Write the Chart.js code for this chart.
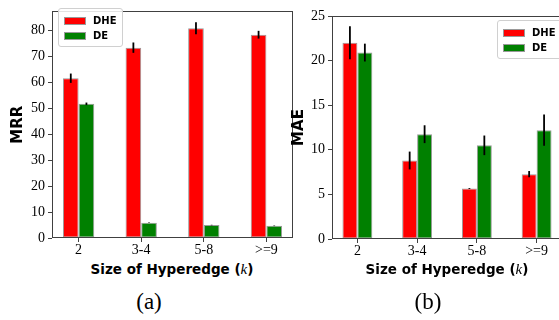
<!DOCTYPE html>
<html lang="en">
<head>
  <meta charset="UTF-8" />
  <title>DHE vs DE by hyperedge size</title>
  <script src="https://cdn.jsdelivr.net/npm/chart.js"></script>
  <style>
    body { margin: 0; width: 559px; height: 320px; overflow: hidden; background: #fff; position: relative; }
    .box { position: absolute; }
    .xtitle { position: absolute; font: bold 13.5px "DejaVu Sans", sans-serif; line-height: 14px; white-space: nowrap; transform: translateX(-50%); color: #000; }
    .xtitle i { font-family: "Liberation Serif", serif; font-weight: normal; font-size: 15px; }
    .caption { position: absolute; font: 23px "Liberation Serif", serif; line-height: 23px; transform: translateX(-50%); color: #000; }
    .legend { position: absolute; background: rgba(255,255,255,0.85); border: 1px solid #d0d0d0; border-radius: 3px; padding: 4px 5px 3px 5px; }
    .legend div { display: flex; align-items: center; height: 15px; font: bold 10px "DejaVu Sans", sans-serif; color: #000; }
    .legend span.sw { display: inline-block; width: 20px; height: 6px; border: 1px solid #999; margin-right: 7px; }
  </style>
</head>
<body>
  <div class="box" style="left:0;top:0;width:296px;height:257px;"><canvas id="mrrChart" width="296" height="257"></canvas></div>
  <div class="box" style="left:290px;top:0;width:275px;height:258px;"><canvas id="maeChart" width="275" height="258"></canvas></div>

  <div class="legend" id="legA" style="left:58px;top:8px;"></div>
  <div class="legend" id="legB" style="left:497px;top:20px;"></div>

  <div class="xtitle" style="left:172px;top:262px;">Size of Hyperedge (<i>k</i>)</div>
  <div class="xtitle" style="left:447px;top:262px;">Size of Hyperedge (<i>k</i>)</div>
  <div class="caption" style="left:149px;top:290px;">(a)</div>
  <div class="caption" style="left:428px;top:290px;">(b)</div>

  <script>
    // categories and series
    const categories = ['2', '3-4', '5-8', '>=9'];
    const seriesNames = ['DHE', 'DE'];
    const seriesColors = ['#ff0000', '#008000'];

    // MRR (left panel)
    const mrrDHE = [61.7, 73.5, 81.0, 78.5];
    const mrrDHEErr = [1.8, 2.0, 2.3, 1.5];
    const mrrDE = [51.8, 5.9, 5.0, 4.7];
    const mrrDEErr = [0.5, 0.1, 0.1, 0.1];
    const mrrTicks = [0, 10, 20, 30, 40, 50, 60, 70, 80];

    // MAE (right panel)
    const maeDHE = [22.0, 8.8, 5.67, 7.27];
    const maeDHEErr = [1.85, 1.0, 0.05, 0.35];
    const maeDE = [20.9, 11.75, 10.5, 12.2];
    const maeDEErr = [1.0, 1.0, 1.1, 1.75];
    const maeTicks = [0, 5, 10, 15, 20, 25];

    const tickFont = { family: '"Liberation Serif", serif', size: 14 };
    const frameColor = '#404040';

    // vertical error bars, no caps
    const errorBars = {
      id: 'errorBars',
      afterDatasetsDraw(chart) {
        const ctx = chart.ctx;
        const y = chart.scales.y;
        ctx.save();
        ctx.strokeStyle = '#000';
        ctx.lineWidth = 1.8;
        chart.data.datasets.forEach((ds, di) => {
          const meta = chart.getDatasetMeta(di);
          meta.data.forEach((bar, i) => {
            const v = ds.data[i].y, e = ds.errors[i];
            ctx.beginPath();
            ctx.moveTo(bar.x, y.getPixelForValue(v + e));
            ctx.lineTo(bar.x, y.getPixelForValue(v - e));
            ctx.stroke();
          });
        });
        ctx.restore();
      }
    };

    // box around the plot area
    const frame = {
      id: 'frame',
      afterDraw(chart) {
        const a = chart.chartArea;
        const ctx = chart.ctx;
        ctx.save();
        ctx.strokeStyle = frameColor;
        ctx.lineWidth = 1;
        ctx.strokeRect(Math.round(a.left) + 0.5, Math.round(a.top) + 0.5,
                       Math.round(a.right - a.left) - 1, Math.round(a.bottom - a.top) - 1);
        ctx.restore();
      }
    };

    function makeChart(id, label, dhe, dheErr, de, deErr, yMax, yTicks, yWidth, yTitlePad, padding) {
      const toPts = arr => arr.map((v, i) => ({ x: i, y: v }));
      return new Chart(document.getElementById(id), {
        type: 'bar',
        data: {
          datasets: [
            { label: seriesNames[0], data: toPts(dhe), errors: dheErr, backgroundColor: seriesColors[0] },
            { label: seriesNames[1], data: toPts(de), errors: deErr, backgroundColor: seriesColors[1] }
          ]
        },
        options: {
          responsive: false,
          animation: false,
          layout: { padding: padding },
          datasets: {
            bar: { categoryPercentage: 0.5, barPercentage: 1.0, borderColor: '#999', borderWidth: 1, borderSkipped: false }
          },
          plugins: { legend: { display: false }, tooltip: { enabled: false } },
          scales: {
            x: {
              type: 'linear',
              min: -0.425,
              max: categories.length - 1 + 0.425,
              offset: false,
              afterBuildTicks: s => { s.ticks = categories.map((c, i) => ({ value: i })); },
              afterFit: s => { s.height = 19; },
              grid: { display: true, offset: false, drawOnChartArea: false, drawTicks: true, tickLength: 4, color: frameColor },
              border: { display: false },
              ticks: { font: tickFont, color: '#000', padding: 0, maxRotation: 0, callback: v => categories[v] }
            },
            y: {
              min: 0,
              max: yMax,
              afterBuildTicks: s => { s.ticks = yTicks.map(v => ({ value: v })); },
              afterFit: s => { s.width = yWidth; },
              grid: { drawOnChartArea: false, drawTicks: true, tickLength: 4, color: frameColor },
              border: { display: false },
              ticks: { font: tickFont, color: '#000', padding: 3 },
              title: { display: true, text: label, color: '#000', padding: { top: yTitlePad, bottom: 0 },
                       font: { family: '"DejaVu Sans", sans-serif', size: 15, weight: 'bold' } }
            }
          }
        },
        plugins: [errorBars, frame]
      });
    }

    makeChart('mrrChart', 'MRR', mrrDHE, mrrDHEErr, mrrDE, mrrDEErr, 87.5, mrrTicks, 52, 9, { top: 3, right: 3, left: 0, bottom: 0 });
    makeChart('maeChart', 'MAE', maeDHE, maeDHEErr, maeDE, maeDEErr, 25, maeTicks, 42, 0, { top: 16, right: 3, left: 0, bottom: 0 });

    // legends
    ['legA', 'legB'].forEach(id => {
      const el = document.getElementById(id);
      seriesNames.forEach((n, i) => {
        const row = document.createElement('div');
        row.innerHTML = '<span class="sw" style="background:' + seriesColors[i] + '"></span>' + n;
        el.appendChild(row);
      });
    });
  </script>
</body>
</html>
